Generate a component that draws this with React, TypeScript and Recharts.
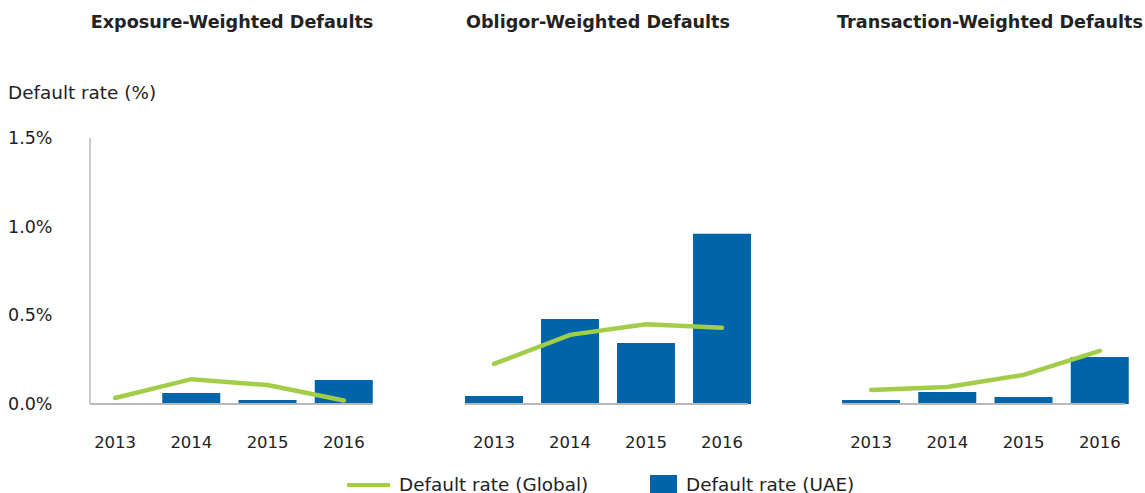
import React from 'react';
import { ComposedChart, Bar, Line, XAxis, YAxis } from 'recharts';

const years = ['2013', '2014', '2015', '2016'];
const panelTitles = ['Exposure-Weighted Defaults', 'Obligor-Weighted Defaults', 'Transaction-Weighted Defaults'];
const uaeExposure = [0, 0.062, 0.023, 0.135];
const globalExposure = [0.034, 0.14, 0.107, 0.02];
const uaeObligor = [0.045, 0.48, 0.344, 0.96];
const globalObligor = [0.226, 0.39, 0.45, 0.43];
const uaeTransaction = [0.023, 0.068, 0.04, 0.265];
const globalTransaction = [0.079, 0.096, 0.164, 0.3];
const yTicks = [0, 0.5, 1.0, 1.5];

const BLUE = '#0064a8';
const GREEN = '#a2cd48';
const TEXT = '#222';
const AXIS = '#b8b8b8';
const FONT = '"DejaVu Sans", sans-serif';

const build = (uae: number[], global: number[]) =>
  years.map((year, i) => ({ year, uae: uae[i], global: global[i] }));

const panels = [
  { data: build(uaeExposure, globalExposure), left: 0, width: 380, marginLeft: 10, pad: { left: -13, right: -9 }, showY: true },
  { data: build(uaeObligor, globalObligor), left: 380, width: 380, marginLeft: 85, pad: { left: -9, right: -12 }, showY: false },
  { data: build(uaeTransaction, globalTransaction), left: 760, width: 385, marginLeft: 82, pad: { left: -9, right: -13 }, showY: false },
];
const titleCenters = [232, 598, 990];

function YTick(props: any) {
  const { y, payload } = props;
  return (
    <text x={8} y={y} dy="0.35em" textAnchor="start" fill={TEXT} fontSize={17.5} fontFamily={FONT}>
      {payload.value.toFixed(1) + '%'}
    </text>
  );
}

export default function App() {
  return (
    <div style={{ position: 'absolute', left: 0, top: 0, width: 1145, height: 493, background: '#fff', fontFamily: FONT, color: TEXT }}>
      {panelTitles.map((t, i) => (
        <div
          key={t}
          style={{ position: 'absolute', top: 11, left: titleCenters[i] - 200, width: 400, textAlign: 'center', fontWeight: 'bold', fontSize: 17.6, lineHeight: '22px' }}
        >
          {t}
        </div>
      ))}
      <div style={{ position: 'absolute', left: 8, top: 82, fontSize: 18.4, lineHeight: '22px' }}>Default rate (%)</div>
      {panels.map((p, i) => {
        const plotWidth = 283;
        return (
          <div key={i} style={{ position: 'absolute', left: p.left, top: 0 }}>
            <ComposedChart
              width={p.width}
              height={460}
              data={p.data}
              margin={{ top: 138, bottom: 16, left: p.showY ? 10 : p.marginLeft, right: p.width - (p.showY ? 90 : p.marginLeft) - plotWidth }}
            >
              <XAxis
                dataKey="year"
                height={40}
                padding={p.pad}
                tickLine={false}
                tickSize={0}
                tickMargin={32}
                axisLine={{ stroke: AXIS, strokeWidth: 2 }}
                tick={{ fill: TEXT, fontSize: 16.5, fontFamily: FONT }}
              />
              <YAxis
                domain={[0, 1.5]}
                ticks={yTicks}
                width={80}
                hide={!p.showY}
                tickLine={false}
                axisLine={{ stroke: AXIS, strokeWidth: 1.5 }}
                tick={<YTick />}
              />
              <Bar dataKey="uae" name="Default rate (UAE)" fill={BLUE} barSize={58} isAnimationActive={false} />
              <Line
                dataKey="global"
                name="Default rate (Global)"
                type="linear"
                stroke={GREEN}
                strokeWidth={4.5}
                strokeLinecap="round"
                dot={false}
                activeDot={false}
                isAnimationActive={false}
              />
            </ComposedChart>
          </div>
        );
      })}
      <div style={{ position: 'absolute', left: 347, top: 483, width: 43, height: 4, background: GREEN }} />
      <div style={{ position: 'absolute', left: 399, top: 474, fontSize: 18.4, lineHeight: '22px' }}>Default rate (Global)</div>
      <div style={{ position: 'absolute', left: 650, top: 475, width: 27, height: 18, background: BLUE }} />
      <div style={{ position: 'absolute', left: 686, top: 474, fontSize: 18.4, lineHeight: '22px' }}>Default rate (UAE)</div>
    </div>
  );
}
